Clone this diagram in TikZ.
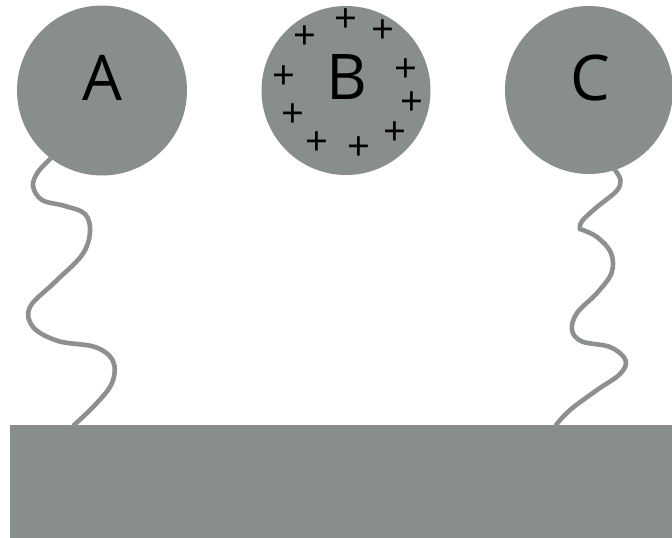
\documentclass[tikz,border=0pt]{standalone}
\usepackage{fontspec}
\setmainfont{Open Sans}
\definecolor{ballgray}{RGB}{136,142,138}
\definecolor{stringgray}{RGB}{140,145,141}
\begin{document}
\begin{tikzpicture}[x=1pt,y=-1pt,
  ball/.style={circle,fill=ballgray,inner sep=0pt,minimum size=#1},
  letter/.style={font=\fontsize{63}{63}\selectfont,inner sep=0pt,text=black},
  charge/.style={font=\fontsize{40}{40}\selectfont,inner sep=0pt,text=black,text height=20pt,text depth=0pt},
  tether/.style={draw=stringgray,line width=4.6pt,line cap=round,line join=round}]
\useasboundingbox (0,0) rectangle (672,538);
\node[ball=170pt] (A) at (102,90.5) {};
\node[ball=169pt] (B) at (346,90.5) {};
\node[ball=168pt] (C) at (589,90) {};
\node[letter] (la) at (102,77.5) {A};
\node[letter] (lb) at (347,77.5) {B};
\node[letter] (lc) at (590,77.5) {C};
\node[fill=ballgray,inner sep=0pt,minimum width=662pt,minimum height=113pt,anchor=north west] (ground) at (10,425) {};
\coordinate (ga) at (74,425);
\coordinate (gc) at (556,425);
% charges
\foreach \i/\px/\py in {1/345.7/22, 2/382.7/33, 3/305/39.5, 4/406/72, 5/284/79, 6/412.3/105.5, 7/293.3/117, 8/395/135, 9/316.7/145.5, 10/359/150.5}
  \node[charge] (p\i) at (\px,\py) {+};
% tethers
\draw[tether] plot[smooth,tension=0.6] coordinates {(A.233) (38,172) (33,186) (42,200) (65,206) (85,214) (90,232) (82,255) (55,282) (30,307) (33,327) (58,341) (95,347) (113,361) (112,383) (95,405) (ga)};
\draw[tether] plot[smooth,tension=0.6] coordinates {(C.288) (620.5,180) (616.5,191) (597,207) (582,221) (580,229)};
\draw[tether] plot[smooth,tension=0.6] coordinates {(580,229) (597,237) (611,253) (611.5,273) (597,293) (577,313) (572,330) (582,341.5) (610,347) (625.5,360) (620,374) (597,390) (570,410) (gc)};
\end{tikzpicture}
\end{document}
